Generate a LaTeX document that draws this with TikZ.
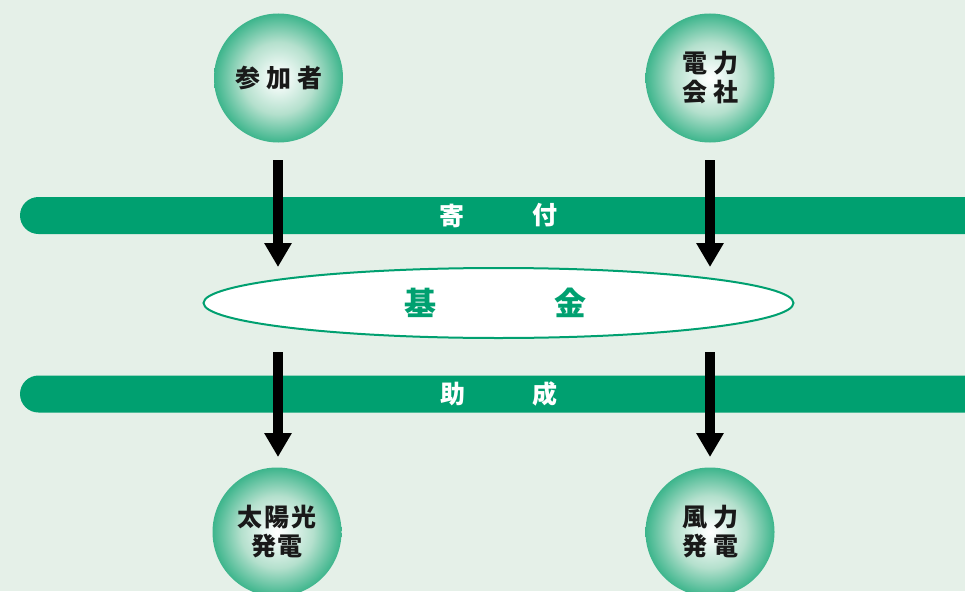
\documentclass[tikz,border=0pt]{standalone}
\usepackage{fontspec}
\newfontfamily\jp{Noto Sans CJK JP}
\usetikzlibrary{arrows.meta,shapes.geometric}
\definecolor{bg}{HTML}{E5F0E8}
\definecolor{band}{HTML}{00A070}
\definecolor{balledge}{HTML}{3DB58C}
\definecolor{ballmid}{HTML}{B4E0CD}
\pgfdeclareradialshading{greenball}{\pgfpoint{0bp}{0bp}}{color(0bp)=(white); color(3bp)=(white!94!balledge); color(14bp)=(ballmid); color(25bp)=(balledge); color(50bp)=(balledge)}
\tikzset{
  ball/.style={circle, minimum size=129pt, inner sep=0pt, shading=greenball,
    font=\jp\bfseries\fontsize{25}{30}\selectfont, text=black!90, align=center},
  bandtxt/.style={font=\jp\bfseries\fontsize{25}{30}\selectfont, text=white, inner sep=0pt},
  fundtxt/.style={font=\jp\bfseries\fontsize{32}{36}\selectfont, text=band, inner sep=0pt},
  bigarrow/.style={line width=10pt, -{Triangle[width=26pt,length=24pt]}, black},
}
\begin{document}
\begin{tikzpicture}[x=1pt,y=-1pt]
\fill[bg] (0,0) rectangle (965,591);
\useasboundingbox (0,0) rectangle (965,591);
% bands
\fill[band, rounded corners=18.5pt] (20,197) rectangle (1000,234);
\fill[band, rounded corners=18.5pt] (20,375.5) rectangle (1000,412.5);
% fund ellipse
\node[ellipse, draw=band, line width=2pt, fill=white, minimum width=590pt, minimum height=70pt, inner sep=0pt] (fund) at (498.5,303) {};
\node[fundtxt] (ki) at (420,303) {基};
\node[fundtxt] (kin) at (570,303) {金};
% band texts
\node[bandtxt] (yo) at (452,215.5) {寄};
\node[bandtxt] (fu) at (545,215.5) {付};
\node[bandtxt] (jo) at (453,394) {助};
\node[bandtxt] (sei) at (545,394) {成};
% circles
\node[ball] (p1) at (278.5,78) {参\kern6pt加\kern6pt者};
\node[ball] (p2) at (710,78) {電\kern6pt力\\[-1pt]会\kern6pt社};
\node[ball] (p3) at (277,532) {太\kern2pt陽\kern2pt光\\[-1pt]発\kern2pt電};
\node[ball] (p4) at (710,532) {風\kern6pt力\\[-1pt]発\kern6pt電};
% arrow ends
\coordinate (a1s) at (278,160);
\coordinate (a1e) at (278,267);
\coordinate (a2s) at (710,160);
\coordinate (a2e) at (710,267);
\coordinate (a3s) at (278,352);
\coordinate (a3e) at (278,457);
\coordinate (a4s) at (710,352);
\coordinate (a4e) at (710,457);
\draw[bigarrow] (a1s) -- (a1e);
\draw[bigarrow] (a2s) -- (a2e);
\draw[bigarrow] (a3s) -- (a3e);
\draw[bigarrow] (a4s) -- (a4e);
\end{tikzpicture}
\end{document}
